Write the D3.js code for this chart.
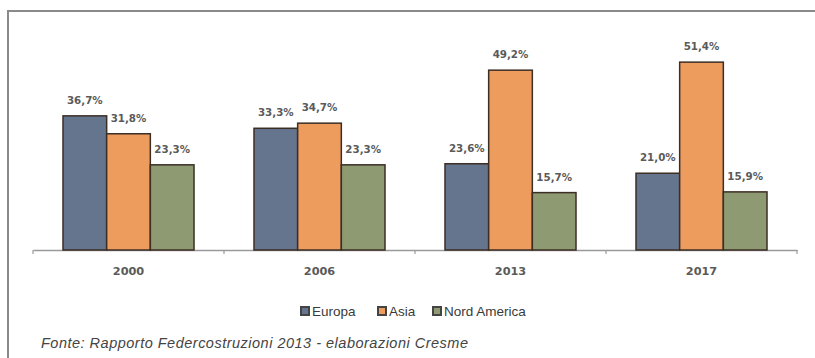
<!DOCTYPE html>
<html>
<head>
<meta charset="utf-8">
<script src="https://cdn.jsdelivr.net/npm/d3@7"></script>
<style>
  html, body { margin: 0; padding: 0; background: #fff; }
  svg { display: block; }
</style>
</head>
<body>
<script>
const years = ["2000", "2006", "2013", "2017"];
const seriesNames = ["Europa", "Asia", "Nord America"];
const europa = [36.7, 33.3, 23.6, 21.0];
const asia = [31.8, 34.7, 49.2, 51.4];
const nordAmerica = [23.3, 23.3, 15.7, 15.9];
const colors = ["#66758e", "#ee9b5e", "#8e9a72"];
const sourceText = "Fonte: Rapporto Federcostruzioni 2013 - elaborazioni Cresme";

const seriesValues = [europa, asia, nordAmerica];
const W = 815, H = 358;
const svg = d3.select("body").append("svg").attr("width", W).attr("height", H);

// frame (top and left)
svg.append("path")
  .attr("d", `M8,${H} L8,11 L${W},11`)
  .attr("fill", "none").attr("stroke", "#8a8a8a").attr("stroke-width", 2);

const baseY = 250;
const x0 = d3.scaleBand().domain(years).range([33, 797]).padding(0);
const x1 = d3.scaleBand().domain(seriesNames).range([30, x0.bandwidth() - 30]).padding(0);
const y = d3.scaleLinear().domain([0, 60]).range([baseY, baseY - 219.3]);

// axis
const axis = d3.axisBottom(x0).tickSize(0).tickFormat(d => d);
const gAxis = svg.append("g").attr("transform", `translate(0,${baseY})`).call(axis);
gAxis.select(".domain").attr("stroke", "#9a9a9a").attr("stroke-width", 1.5);
gAxis.selectAll(".tick text")
  .attr("dy", 0).attr("y", 25)
  .attr("font-family", "'DejaVu Sans', sans-serif")
  .attr("font-size", 11.3).attr("font-weight", "bold").attr("fill", "#5a5a5a");
// boundary ticks
const bounds = years.map(d => x0(d)).concat([x0.range()[1]]);
svg.append("g").selectAll("line").data(bounds).join("line")
  .attr("x1", d => d).attr("x2", d => d)
  .attr("y1", baseY).attr("y2", baseY + 4)
  .attr("stroke", "#9a9a9a").attr("stroke-width", 1.2);

// bars
const groups = svg.append("g").selectAll("g").data(years).join("g")
  .attr("transform", d => `translate(${x0(d)},0)`);

groups.each(function(yr, yi) {
  const g = d3.select(this);
  seriesNames.forEach((s, si) => {
    const v = seriesValues[si][yi];
    g.append("rect")
      .attr("x", x1(s)).attr("y", y(v))
      .attr("width", x1.bandwidth()).attr("height", baseY - y(v))
      .attr("fill", colors[si]).attr("stroke", "#3b2e25").attr("stroke-width", 1.5);
    g.append("text")
      .attr("x", x1(s) + x1.bandwidth() / 2).attr("y", y(v) - 12)
      .attr("text-anchor", "middle")
      .attr("font-family", "'DejaVu Sans', sans-serif")
      .attr("font-size", 10.3).attr("font-weight", "bold").attr("fill", "#5a5a5a")
      .text(v.toFixed(1).replace(".", ",") + "%");
  });
});

// legend
const legendPos = [301, 378, 433];
const leg = svg.append("g").selectAll("g").data(seriesNames).join("g")
  .attr("transform", (d, i) => `translate(${legendPos[i]},311)`);
leg.append("rect").attr("x", 0).attr("y", -4).attr("width", 8).attr("height", 8)
  .attr("fill", (d, i) => colors[i]).attr("stroke", "#444").attr("stroke-width", 2);
leg.append("text").attr("x", 11).attr("y", 4.5)
  .attr("font-family", "'Liberation Sans', Arial, sans-serif")
  .attr("font-size", 13.5).attr("fill", "#3a3a3a").text(d => d);

// source
svg.append("text").attr("x", 41).attr("y", 348)
  .attr("font-family", "'Liberation Sans', Arial, sans-serif")
  .attr("font-size", 14.5).attr("font-style", "italic").attr("fill", "#444")
  .attr("textLength", 427).attr("lengthAdjust", "spacing")
  .text(sourceText);
</script>
</body>
</html>
